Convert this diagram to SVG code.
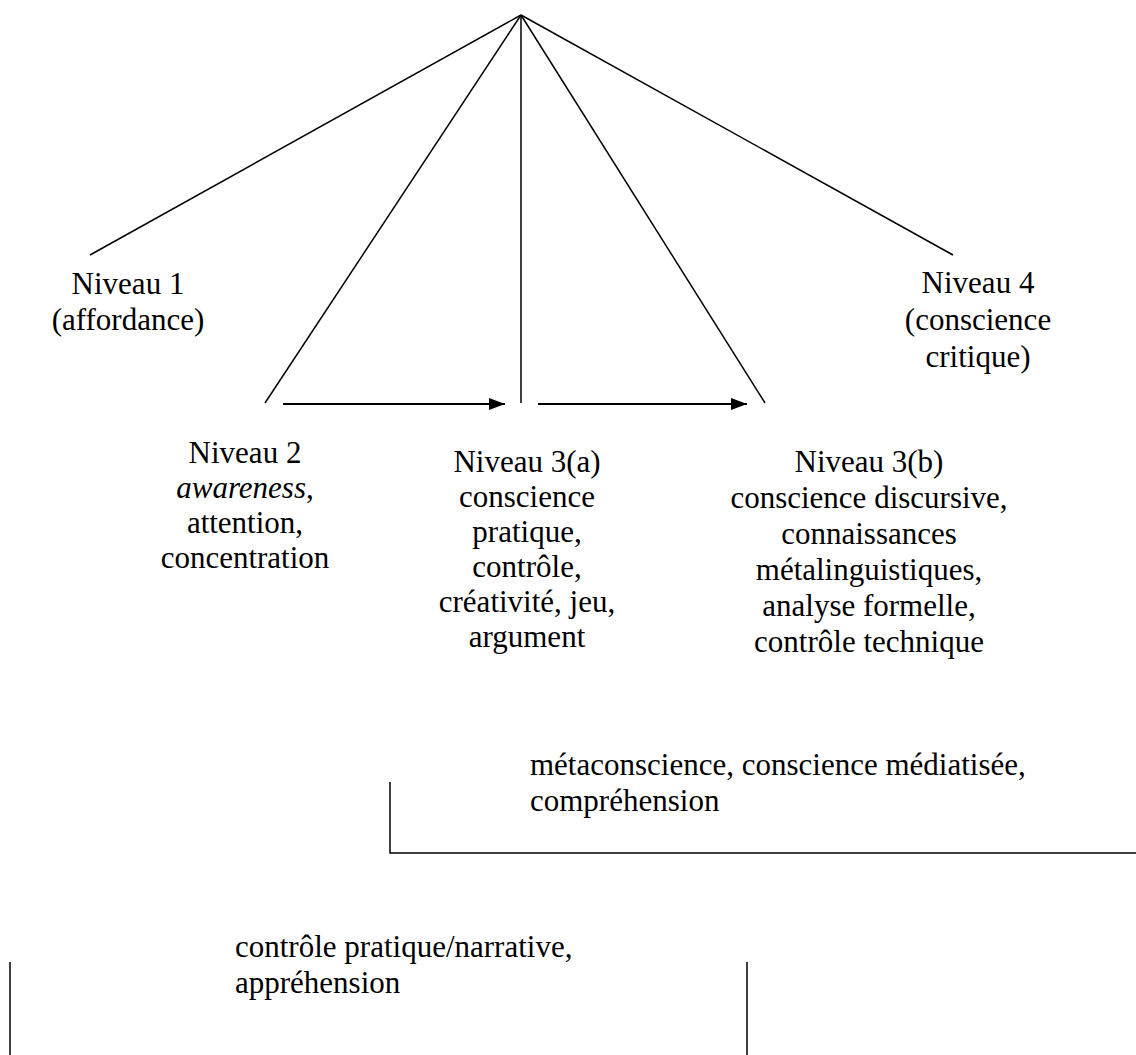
<svg xmlns="http://www.w3.org/2000/svg" width="1136" height="1055" viewBox="0 0 1136 1055">
<style>
text{font-family:"Liberation Serif","Times New Roman",serif;font-size:31px;fill:#000}
.c{text-anchor:middle}
.l{text-anchor:start}
.ln{stroke:#000;stroke-width:1.5;fill:none}
.ar{stroke:#000;stroke-width:2;fill:none}
</style>
<defs>
<marker id="ah" markerWidth="16" markerHeight="12" refX="16" refY="6" orient="auto" markerUnits="userSpaceOnUse">
<path d="M0,0 L16,6 L0,12 Z" fill="#000"/>
</marker>
</defs>
<rect width="1136" height="1055" fill="#fff"/>
<g id="connectors">
<line class="ln" x1="521" y1="15" x2="90" y2="255"/>
<line class="ln" x1="521" y1="15" x2="265" y2="403"/>
<line class="ln" x1="521" y1="15" x2="521" y2="403"/>
<line class="ln" x1="521" y1="15" x2="765" y2="403"/>
<line class="ln" x1="521" y1="15" x2="953" y2="255"/>
<line class="ar" x1="283" y1="404" x2="505" y2="404" marker-end="url(#ah)"/>
<line class="ar" x1="538" y1="404" x2="747" y2="404" marker-end="url(#ah)"/>
</g>
<g id="niveau1">
<text class="c" x="128" y="294">Niveau 1</text>
<text class="c" x="128" y="330">(affordance)</text>
</g>
<g id="niveau4">
<text class="c" x="978" y="293">Niveau 4</text>
<text class="c" x="978" y="330">(conscience</text>
<text class="c" x="978" y="367">critique)</text>
</g>
<g id="niveau2">
<text class="c" x="245" y="463">Niveau 2</text>
<text class="c" x="245" y="498"><tspan font-style="italic">awareness</tspan>,</text>
<text class="c" x="245" y="533">attention,</text>
<text class="c" x="245" y="568">concentration</text>
</g>
<g id="niveau3a">
<text class="c" x="527" y="472">Niveau 3(a)</text>
<text class="c" x="527" y="507">conscience</text>
<text class="c" x="527" y="542">pratique,</text>
<text class="c" x="527" y="577">contrôle,</text>
<text class="c" x="527" y="612">créativité, jeu,</text>
<text class="c" x="527" y="647">argument</text>
</g>
<g id="niveau3b">
<text class="c" x="869" y="472">Niveau 3(b)</text>
<text class="c" x="869" y="508">conscience discursive,</text>
<text class="c" x="869" y="544">connaissances</text>
<text class="c" x="869" y="580">métalinguistiques,</text>
<text class="c" x="869" y="616">analyse formelle,</text>
<text class="c" x="869" y="652">contrôle technique</text>
</g>
<g id="bracket-meta">
<path class="ln" d="M390,782 L390,853 L1136,853"/>
<text class="l" x="530" y="775">métaconscience, conscience médiatisée,</text>
<text class="l" x="530" y="811">compréhension</text>
</g>
<g id="bracket-pratique">
<line class="ln" x1="10" y1="962" x2="10" y2="1055"/>
<line class="ln" x1="747" y1="962" x2="747" y2="1055"/>
<text class="l" x="235" y="957">contrôle pratique/narrative,</text>
<text class="l" x="235" y="993">appréhension</text>
</g>
</svg>
